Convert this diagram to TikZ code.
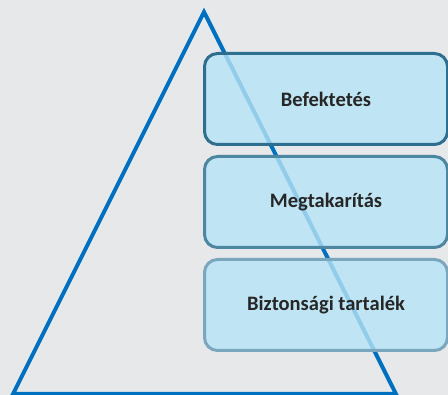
\documentclass[tikz,border=0pt]{standalone}
\usepackage{fontspec}
\setmainfont{Carlito}
\usetikzlibrary{positioning}

\begin{document}
\begin{tikzpicture}[x=1pt, y=1pt, >=stealth]
      % Define colors
      \definecolor{bggray}{RGB}{231, 232, 234}
      \definecolor{triblue}{RGB}{0, 112, 192}
      \definecolor{boxfill}{RGB}{182, 227, 246}
      \definecolor{edgeA}{RGB}{46, 110, 142}
      \definecolor{edgeB}{RGB}{76, 134, 160}
      \definecolor{edgeC}{RGB}{122, 166, 190}
      \tikzset{
        level/.style={rectangle, rounded corners=13pt, line width=3pt,
          fill=boxfill, fill opacity=0.8, text opacity=1,
          minimum width=243pt, minimum height=91pt,
          font=\fontsize{20.5}{24}\selectfont\bfseries, text=black!85}
      }

      % Background and frame
      \fill[bggray] (0,0) rectangle (448,395);
      \clip (0,0) rectangle (448,395);

      % Pyramid triangle
      \coordinate (apex) at (204,383);
      \coordinate (baseL) at (13,1);
      \coordinate (baseR) at (396,1);
      \draw[triblue, line width=4pt, line join=miter] (apex) -- (baseR) -- (baseL) -- cycle;

      % Level boxes
      \node[level, draw=edgeA] (invest) at (326,296) {Befektetés};
      \node[level, draw=edgeB, below=9pt of invest] (save) {Megtakarítás};
      \node[level, draw=edgeC, below=9pt of save] (reserve) {Biztonsági tartalék};

\end{tikzpicture}
\end{document}
